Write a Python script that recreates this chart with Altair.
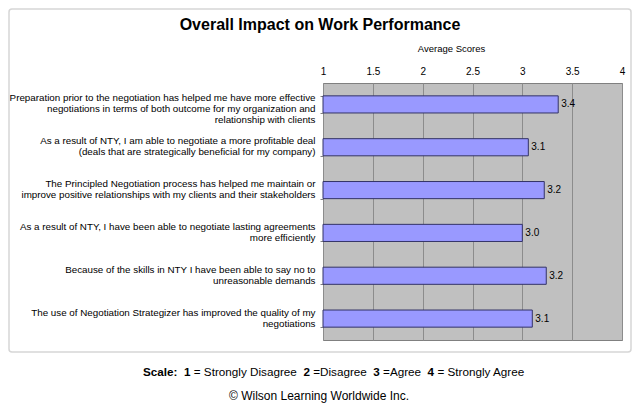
import altair as alt
import pandas as pd

# ---- data ----
statements = [
    "Preparation prior to the negotiation has helped me have more effective\nnegotiations  in terms of both outcome for my organization and\nrelationship with clients",
    "As a result of NTY, I am able to negotiate a more profitable deal\n(deals that are strategically beneficial for my company)",
    "The Principled Negotiation process has helped me maintain or\nimprove positive relationships with my clients and their stakeholders",
    "As a result of NTY, I have been able to negotiate lasting agreements\nmore efficiently",
    "Because of the skills in NTY I have been able to say no to\nunreasonable demands",
    "The use of Negotiation Strategizer has improved the quality of my\nnegotiations",
]
scores = [3.36, 3.06, 3.22, 3.00, 3.24, 3.10]
x_ticks = [1, 1.5, 2, 2.5, 3, 3.5, 4]
chart_title = "Overall Impact on Work Performance"
axis_title = "Average Scores"
scale_parts = ["Scale:", "1", "= Strongly Disagree", "2", "=Disagree", "3", "=Agree", "4", "= Strongly Agree"]
scale_bold = [True, True, False, True, False, True, False, True, False]
copyright_text = "\u00a9 Wilson Learning Worldwide Inc."

# ---- layout / style (not data) ----
# page x of each footer segment; plot origin sits at page x=323, y=83
scale_part_x = [143, 184.0, 193.8, 303.4, 313.2, 373.3, 383.1, 427.6, 437.4]

FONT = "Liberation Sans, Arial, sans-serif"

df = pd.DataFrame({"statement": statements, "score": scores})

y_enc = alt.Y(
    "statement:N",
    sort=statements,
    scale=alt.Scale(paddingInner=0.6, paddingOuter=0.3),
    axis=alt.Axis(
        title=None,
        labelExpr="split(datum.label, '\\n')",
        labelFont=FONT,
        labelFontSize=9.8,
        labelLineHeight=11,
        labelAlign="right",
        labelBaseline="middle",
        labelPadding=5,
        labelOffset=-6.5,
        labelLimit=400,
        labelColor="black",
        tickSize=3,
        tickColor="#808080",
        tickBand="extent",
        domain=False,
    ),
)

x_enc = alt.X(
    "score:Q",
    scale=alt.Scale(domain=[1, 4], nice=False, zero=False),
    axis=alt.Axis(
        orient="top",
        values=x_ticks,
        format="~g",
        title=axis_title,
        titleFont=FONT,
        titleFontSize=9.5,
        titleFontWeight="normal",
        titleColor="black",
        titleX=128,
        titleY=-35,
        titleAlign="center",
        titleBaseline="middle",
        labelFont=FONT,
        labelFontSize=10,
        labelColor="black",
        labelPadding=7,
        labelFlush=False,
        ticks=False,
        grid=True,
        gridColor="#8c8c8c",
        gridWidth=1,
        domain=False,
    ),
)

border = alt.Chart(alt.Data(values=[{"b": 1}])).mark_rect(
    filled=False, stroke="#d6d6d6", strokeWidth=1.5, cornerRadius=3
).encode(x=alt.value(-314), x2=alt.value(308), y=alt.value(-74), y2=alt.value(269))

bars = alt.Chart(df).mark_bar(color="#9999FF", stroke="#333366", strokeWidth=1).encode(
    y=y_enc, x=x_enc, x2=alt.X2(datum=1)
)

value_labels = alt.Chart(df).mark_text(
    align="left", baseline="middle", dx=3, font=FONT, fontSize=10, color="black"
).encode(
    y=alt.Y("statement:N", sort=statements),
    x=alt.X("score:Q"),
    text=alt.Text("score:Q", format=".1f"),
)

title_layer = alt.Chart(alt.Data(values=[{"t": chart_title}])).mark_text(
    font=FONT, fontSize=16, fontWeight="bold", align="center", baseline="middle", color="black"
).encode(x=alt.value(-3), y=alt.value(-58), text="t:N")

footer_layers = []
for part, bold, px in zip(scale_parts, scale_bold, scale_part_x):
    footer_layers.append(
        alt.Chart(alt.Data(values=[{"t": part}])).mark_text(
            font=FONT, fontSize=11.7, fontWeight="bold" if bold else "normal",
            align="left", baseline="middle", color="black"
        ).encode(x=alt.value(px - 323), y=alt.value(289), text="t:N")
    )

copyright_layer = alt.Chart(alt.Data(values=[{"t": copyright_text}])).mark_text(
    font=FONT, fontSize=12, align="center", baseline="middle", color="black"
).encode(x=alt.value(319 - 323), y=alt.value(313), text="t:N")

chart = alt.layer(
    border, bars, value_labels, title_layer, *footer_layers, copyright_layer
).properties(
    width=299,
    height=257,
    autosize=alt.AutoSizeParams(type="none"),
    padding={"left": 315, "top": 75, "right": 10, "bottom": 63},
    background="white",
).configure(font=FONT).configure_view(
    fill="#C0C0C0", stroke="#808080", strokeWidth=1
)

chart.save("out.html", embed_options={"renderer": "svg", "actions": False})
